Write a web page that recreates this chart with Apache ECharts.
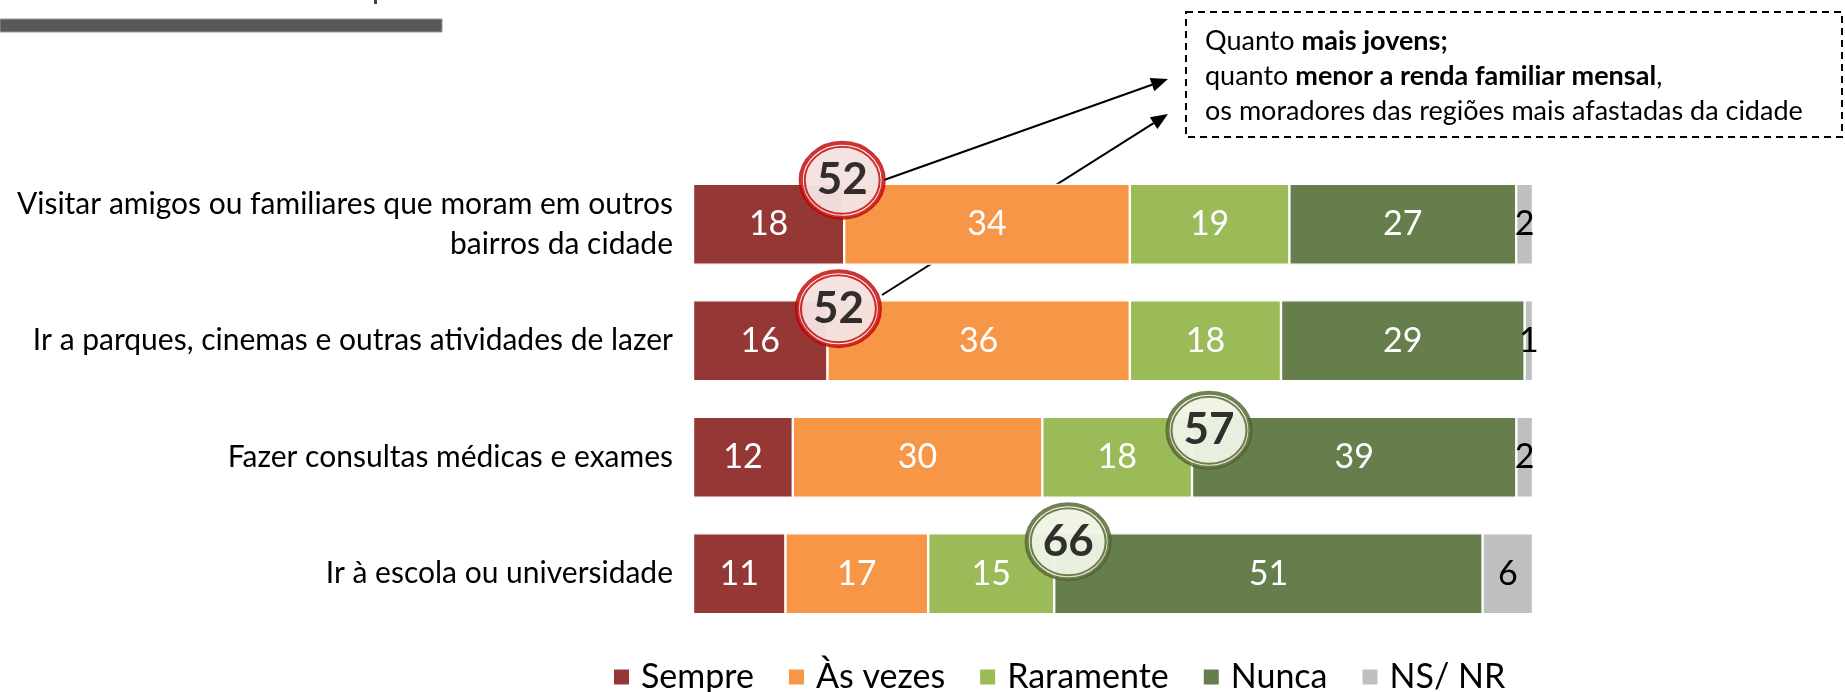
<!DOCTYPE html>
<html>
<head>
<meta charset="utf-8">
<script src="https://cdn.jsdelivr.net/npm/echarts@6/dist/echarts.min.js"></script>
<style>
  html, body { margin: 0; padding: 0; background: #fff; }
  #chart { width: 1845px; height: 692px; }
</style>
</head>
<body>
<div id="chart"></div>
<script>
var categories = [
    'Visitar amigos ou familiares que moram em outros\nbairros da cidade',
    'Ir a parques, cinemas e outras atividades de lazer',
    'Fazer consultas médicas e exames',
    'Ir à escola ou universidade'
];
var seriesNames = ['Sempre', 'Às vezes', 'Raramente', 'Nunca', 'NS/ NR'];
var sempre = [18, 16, 12, 11];
var asVezes = [34, 36, 30, 17];
var raramente = [19, 18, 18, 15];
var nunca = [27, 29, 39, 51];
var nsnr = [2, 1, 2, 6];
// highlighted totals and how many segments they sit after
var calloutValues = [52, 52, 57, 66];
var calloutAfter = [1, 1, 3, 3];

var colors = ['#953735', '#f79646', '#9bbb59', '#667e4b', '#bfbfbf'];
var ringColors = ['#c00000', '#c00000', '#4f6228', '#4f6228'];
var fillColors = ['#f2dcdb', '#f2dcdb', '#ebf1de', '#ebf1de'];
var calloutShift = [[-2, -44], [11, -32], [17, -27], [14, -32]];
var FONT = 'Lato';

var chart = echarts.init(document.getElementById('chart'));

var raw = [sempre, asVezes, raramente, nunca, nsnr];
var totals = categories.map(function (c, i) {
    return raw.reduce(function (s, arr) { return s + arr[i]; }, 0);
});

var series = raw.map(function (arr, k) {
    return {
        name: seriesNames[k],
        type: 'bar',
        stack: 'all',
        barWidth: 81,
        itemStyle: { color: colors[k], borderColor: '#fff', borderWidth: 1.2 },
        label: {
            show: true,
            position: 'inside',
            color: k === 4 ? '#000' : '#fff',
            fontFamily: FONT,
            fontSize: 34,
            formatter: function (p) { return arr[p.dataIndex]; }
        },
        data: arr.map(function (v, i) { return v / totals[i] * 100; })
    };
});

// callout position: cumulative share at the boundary
var calloutPoints = categories.map(function (c, i) {
    var s = 0;
    for (var k = 0; k < calloutAfter[i]; k++) s += raw[k][i];
    return [s / totals[i] * 100, i];
});

series.push({
    name: 'ring',
    type: 'scatter',
    z: 5,
    silent: true,
    symbol: 'circle',
    symbolSize: [83, 75],
    data: calloutPoints.map(function (pt, i) {
        return {
            value: pt,
            symbolOffset: calloutShift[i],
            itemStyle: { color: '#fff', borderColor: ringColors[i], borderWidth: 4 }
        };
    })
});
series.push({
    name: 'inner',
    type: 'scatter',
    z: 6,
    silent: true,
    symbol: 'circle',
    symbolSize: [75, 67],
    label: {
        show: true,
        position: 'inside',
        color: '#000',
        fontFamily: FONT,
        fontWeight: 'bold',
        fontSize: 44,
        formatter: function (p) { return calloutValues[p.dataIndex]; }
    },
    data: calloutPoints.map(function (pt, i) {
        return {
            value: pt,
            symbolOffset: calloutShift[i],
            itemStyle: { color: fillColors[i], borderColor: ringColors[i], borderWidth: 2 }
        };
    })
});

function arrow(x1, y1, x2, y2) {
    var ang = Math.atan2(y2 - y1, x2 - x1);
    var len = 17, half = 7;
    var bx = x2 - len * Math.cos(ang), by = y2 - len * Math.sin(ang);
    var nx = -Math.sin(ang) * half, ny = Math.cos(ang) * half;
    return [{
        type: 'line',
        shape: { x1: x1, y1: y1, x2: bx, y2: by },
        style: { stroke: '#000', lineWidth: 2 }
    }, {
        type: 'polygon',
        shape: { points: [[x2, y2], [bx + nx, by + ny], [bx - nx, by - ny]] },
        style: { fill: '#000' }
    }];
}

var option = {
    animation: false,
    grid: { left: 693, right: 312, top: 166, bottom: 60 },
    xAxis: { type: 'value', min: 0, max: 100, show: false },
    yAxis: {
        type: 'category',
        inverse: true,
        data: categories,
        axisLine: { show: false },
        axisTick: { show: false },
        axisLabel: {
            margin: 20,
            color: '#000',
            fontFamily: FONT,
            fontSize: 30,
            lineHeight: 40,
            align: 'right'
        }
    },
    legend: {
        data: seriesNames,
        left: 607,
        top: 655,
        icon: 'rect',
        itemWidth: 17,
        itemHeight: 17,
        itemGap: 33,
        textStyle: { color: '#000', fontFamily: FONT, fontSize: 34, padding: [0, 0, 0, 6] }
    },
    graphic: [
        {
            type: 'rect',
            shape: { x: 0, y: 19, width: 442, height: 13 },
            style: { fill: '#595959', stroke: '#9a9a9a', lineWidth: 1 }
        },
        {
            type: 'rect',
            shape: { x: 374, y: 0, width: 3, height: 4 },
            style: { fill: '#444' }
        },
        {
            type: 'rect',
            shape: { x: 1186, y: 12, width: 656, height: 125 },
            style: { fill: 'none', stroke: '#000', lineWidth: 2, lineDash: [7, 5] }
        },
        {
            type: 'text',
            x: 1205,
            y: 24,
            style: {
                text: 'Quanto {b|mais jovens;}\nquanto {b|menor a renda familiar mensal},\nos moradores das regiões mais afastadas da cidade',
                fill: '#000',
                fontFamily: FONT,
                fontSize: 27,
                lineHeight: 35,
                verticalAlign: 'top',
                rich: {
                    b: { fontFamily: FONT, fontSize: 27, fontWeight: 'bold', lineHeight: 35, fill: '#000' }
                }
            }
        }
    ].concat(arrow(884, 180, 1168, 79), arrow(882, 295, 1168, 114)),
    series: series
};

chart.setOption(option);
window.addEventListener('resize', chart.resize);
</script>
</body>
</html>
